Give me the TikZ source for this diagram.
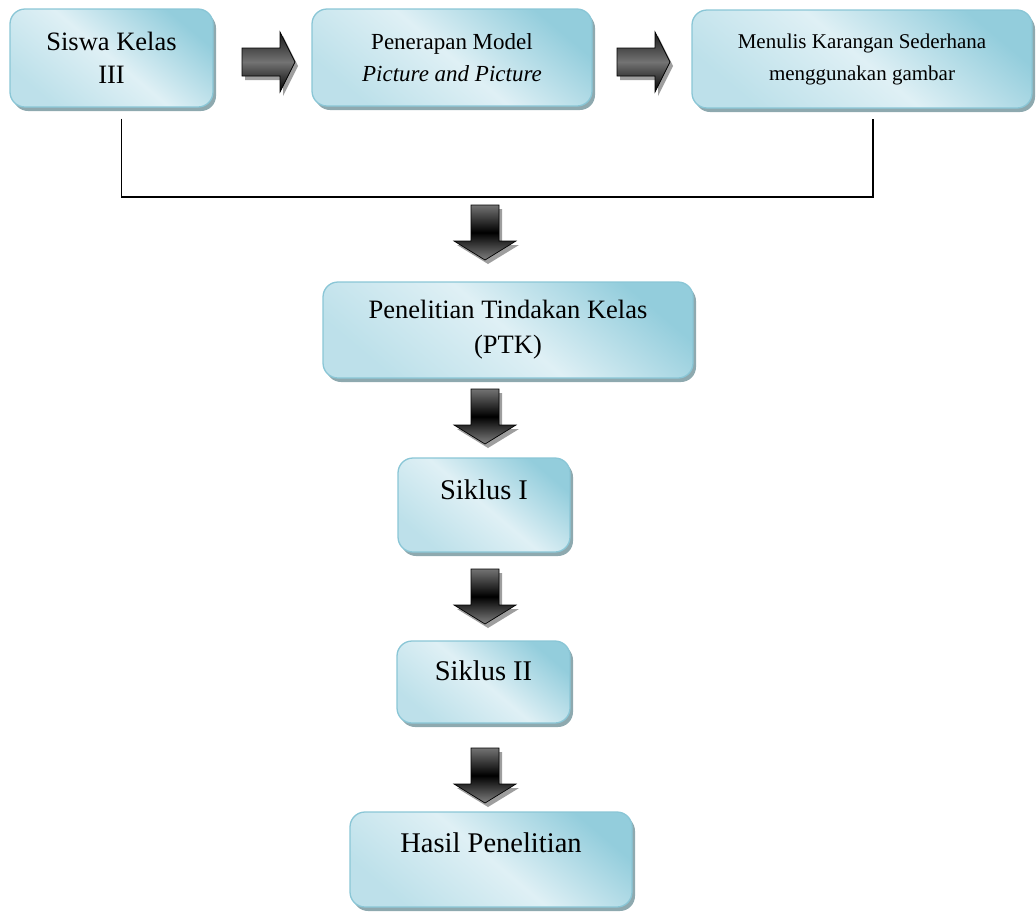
\documentclass[tikz,border=0pt]{standalone}
\usepackage{fontspec}
\setmainfont{Liberation Serif}
\usepackage{tikz}
\usetikzlibrary{shadows}
\definecolor{cKotakTua}{HTML}{93CDDC}
\definecolor{cKotakMuda}{HTML}{DFF0F5}
\definecolor{cTepi}{HTML}{8AC6D6}
\definecolor{cBayang}{HTML}{8EA9AF}
\tikzset{
  kotak/.style  = {rectangle, rounded corners=15pt, draw=cTepi, line width=1.3pt,
                   top color=cKotakTua, bottom color=cKotakTua!45!cKotakMuda,
                   middle color=cKotakMuda, shading angle=-40,
                   drop shadow={shadow xshift=3pt, shadow yshift=-4pt, fill=cBayang, opacity=1},
                   align=center, inner sep=0pt, font=\fontsize{26.5}{33}\selectfont},
  kotak1/.style = {kotak, font=\fontsize{28.5}{34}\selectfont},
  garis/.style  = {line width=1.8pt, draw=black},
  panah/.style  = {draw=black, line width=0.7pt},
  bayang/.style = {fill=black!38},
}
\newcommand{\panahBawah}[2]{%
  \begin{scope}[shift={(#1,#2)}]
    \fill[bayang] (-11,4) -- (17,4) -- (17,40) -- (34,40) -- (3,59) -- (-28,40) -- (-11,40) -- cycle;
    \path[panah, top color=black!55, bottom color=black!50, middle color=black]
      (-14,0) -- (14,0) -- (14,36) -- (31,36) -- (0,55) -- (-31,36) -- (-14,36) -- cycle;
  \end{scope}}
\newcommand{\panahKanan}[2]{%
  \begin{scope}[shift={(#1,#2)}]
    \fill[bayang] (3,-10) -- (41,-10) -- (41,-26) -- (56,4) -- (41,34) -- (41,18) -- (3,18) -- cycle;
    \path[panah, top color=black!90, bottom color=black, middle color=black!55]
      (0,-14) -- (38,-14) -- (38,-30) -- (53,0) -- (38,30) -- (38,14) -- (0,14) -- cycle;
  \end{scope}}

\begin{document}
\begin{tikzpicture}[x=1pt, y=-1pt]
  \useasboundingbox (0,0) rectangle (1036,911);

  \node[kotak, minimum width=203pt, minimum height=98pt] (siswa) at (111.5,58) {Siswa Kelas\\III};
  \node[kotak, minimum width=280pt, minimum height=97pt, font=\fontsize{23}{32}\selectfont]
    (model) at (452,57.5) {Penerapan Model\\\textit{Picture and Picture}};
  \node[kotak, minimum width=340pt, minimum height=98pt, font=\fontsize{21}{32}\selectfont]
    (menulis) at (862,59) {Menulis Karangan Sederhana\\menggunakan gambar};
  \node[kotak, minimum width=370pt, minimum height=96pt, font=\fontsize{26.5}{35}\selectfont]
    (ptk) at (508,330) {Penelitian Tindakan Kelas\\(PTK)};
  \node[kotak1, minimum width=172pt, minimum height=94pt, text depth=30pt] (siklus1) at (484,505) {Siklus I};
  \node[kotak1, minimum width=173pt, minimum height=82pt, text depth=23pt] (siklus2) at (483.5,682) {Siklus II};
  \node[kotak1, minimum width=282pt, minimum height=95pt, text depth=33pt] (hasil) at (491,859.5) {Hasil Penelitian};

  \panahKanan{242}{62}
  \panahKanan{617}{62}

  \coordinate (kiri) at ([xshift=10pt,yshift=-11pt]siswa.south);
  \coordinate (kanan) at ([xshift=11pt,yshift=-10pt]menulis.south);
  \draw[garis] (kiri) -- ++(0,78) -| (kanan);

  \panahBawah{485}{205}
  \panahBawah{485}{389}
  \panahBawah{485}{569}
  \panahBawah{485}{748}
\end{tikzpicture}
\end{document}
